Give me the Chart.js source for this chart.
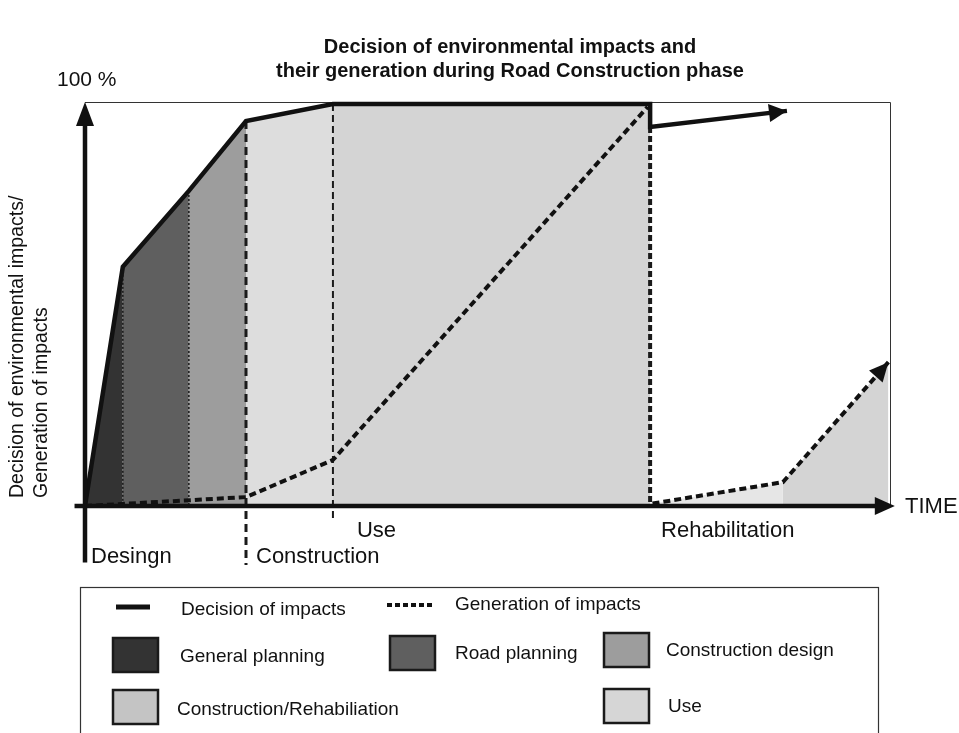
<!DOCTYPE html>
<html>
<head>
<meta charset="utf-8">
<script src="https://cdn.jsdelivr.net/npm/chart.js@4/dist/chart.umd.min.js"></script>
<style>
  html, body { margin: 0; background: #fff; }
  #wrap { width: 959px; height: 733px; position: relative; }
</style>
</head>
<body>
<div id="wrap"><canvas id="chart"></canvas></div>
<script>
// time runs 0..100 (no units), vertical axis is percent
const decisionX = [0, 4.7, 12.9, 20.0, 30.8, 70.2, 70.2, 87.2];
const decisionY = [0, 59.2, 78.0, 95.3, 99.5, 99.5, 93.8, 97.8];
const generationX = [0, 20.0, 30.8, 69.9];
const generationY = [0, 2.2, 11.4, 98.8];
const rehabX = [70.5, 86.7, 99.8];
const rehabY = [0.6, 5.9, 35.6];

const phaseNames = ['General planning', 'Road planning', 'Construction design', 'Construction', 'Use'];
const phaseColors = ['#333333', '#5f5f5f', '#9d9d9d', '#dddddd', '#d4d4d4'];
const rehabColors = ['#e6e6e6', '#d4d4d4'];

// phase boundaries under the decision curve
const markerX = [4.7, 12.9, 20.0, 30.8, 70.2];
const markerTop = [59.2, 78.0, 95.3, 99.5, 93.8];
const markerBottom = [0, 0, -14.6, -3.0, 0];

const stageLabels = ['Desingn', 'Construction', 'Use', 'Rehabilitation'];
const stageX = [0, 20.0, 30.8, 70.2];

const pts = (xs, ys) => xs.map((x, i) => ({ x: x, y: ys[i] }));

const datasets = [];

// lines on top
datasets.push({
  label: 'Decision of impacts',
  data: pts(decisionX, decisionY),
  borderColor: '#111',
  borderWidth: 4.5,
  pointRadius: 0,
  showLine: true,
  fill: false,
  clip: false,
  order: 0
});
datasets.push({
  label: 'Generation of impacts',
  data: pts(generationX, generationY),
  borderColor: '#111',
  borderWidth: 4,
  borderDash: [7, 4],
  pointRadius: 0,
  showLine: true,
  fill: false,
  clip: false,
  order: 0
});
datasets.push({
  label: 'Generation (rehabilitation)',
  data: pts(rehabX, rehabY),
  borderColor: '#111',
  borderWidth: 4,
  borderDash: [7, 4],
  pointRadius: 0,
  showLine: true,
  fill: false,
  clip: false,
  order: 0
});

// phase markers
const markerStyle = [
  { w: 1.5, dash: [2, 2] },
  { w: 1.5, dash: [2, 2] },
  { w: 3, dash: [8, 5] },
  { w: 2, dash: [7, 4] },
  { w: 4, dash: [6, 3] }
];
markerX.forEach((x, i) => {
  datasets.push({
    label: 'marker' + i,
    data: [{ x: x, y: markerTop[i] }, { x: x, y: markerBottom[i] }],
    borderColor: '#1a1a1a',
    borderWidth: markerStyle[i].w,
    borderDash: markerStyle[i].dash,
    pointRadius: 0,
    showLine: true,
    fill: false,
    clip: false,
    order: 1
  });
});

// shaded phases
phaseNames.forEach((name, i) => {
  datasets.push({
    label: name,
    data: pts(decisionX.slice(i, i + 2), decisionY.slice(i, i + 2)),
    borderWidth: 0,
    borderColor: 'rgba(0,0,0,0)',
    backgroundColor: phaseColors[i],
    pointRadius: 0,
    showLine: true,
    fill: 'origin',
    order: 10
  });
});
rehabColors.forEach((c, i) => {
  datasets.push({
    label: 'rehab' + i,
    data: pts(rehabX.slice(i, i + 2), rehabY.slice(i, i + 2)),
    borderWidth: 0,
    borderColor: 'rgba(0,0,0,0)',
    backgroundColor: c,
    pointRadius: 0,
    showLine: true,
    fill: 'origin',
    order: 10
  });
});

const FONT = '"Liberation Sans", Arial, sans-serif';

function arrowHead(ctx, x0, y0, x1, y1, len, half) {
  const a = Math.atan2(y1 - y0, x1 - x0);
  ctx.beginPath();
  ctx.moveTo(x1, y1);
  ctx.lineTo(x1 - len * Math.cos(a) + half * Math.sin(a), y1 - len * Math.sin(a) - half * Math.cos(a));
  ctx.lineTo(x1 - len * Math.cos(a) - half * Math.sin(a), y1 - len * Math.sin(a) + half * Math.cos(a));
  ctx.closePath();
  ctx.fill();
}

const frame = {
  id: 'frame',
  beforeDatasetsDraw(chart) {
    const ctx = chart.ctx;
    const a = chart.chartArea;
    ctx.save();
    ctx.strokeStyle = '#333';
    ctx.lineWidth = 1;
    ctx.beginPath();
    ctx.moveTo(a.left, a.top + 0.5);
    ctx.lineTo(a.right + 0.5, a.top + 0.5);
    ctx.lineTo(a.right + 0.5, a.bottom);
    ctx.stroke();
    ctx.restore();
  },
  afterDatasetsDraw(chart) {
    const ctx = chart.ctx;
    const xs = chart.scales.x, ys = chart.scales.y;
    const X = v => xs.getPixelForValue(v), Y = v => ys.getPixelForValue(v);
    ctx.save();
    ctx.fillStyle = '#111';
    ctx.strokeStyle = '#111';

    // axes
    ctx.lineWidth = 4.5;
    ctx.beginPath();
    ctx.moveTo(X(0), Y(-14));
    ctx.lineTo(X(0), Y(95));
    ctx.stroke();
    ctx.beginPath();
    ctx.moveTo(X(-1.3), Y(0));
    ctx.lineTo(X(98.5), Y(0));
    ctx.stroke();
    arrowHead(ctx, X(0), Y(0), X(0), Y(100), 24, 9);
    arrowHead(ctx, X(0), Y(0), X(100.6), Y(0), 20, 9);

    // arrow tips of the curves
    const n = decisionX.length;
    arrowHead(ctx, X(decisionX[n - 2]), Y(decisionY[n - 2]), X(decisionX[n - 1]), Y(decisionY[n - 1]), 18, 9);
    const m = rehabX.length;
    arrowHead(ctx, X(rehabX[m - 2]), Y(rehabY[m - 2]), X(rehabX[m - 1]), Y(rehabY[m - 1]), 19, 9);

    // texts
    ctx.textBaseline = 'middle';
    ctx.textAlign = 'center';
    ctx.font = 'bold 20px ' + FONT;
    ctx.fillText('Decision of environmental impacts and', 510, 47);
    ctx.fillText('their generation during Road Construction phase', 510, 71);

    ctx.textAlign = 'left';
    ctx.font = '21px ' + FONT;
    ctx.fillText('100 %', 57, 80);
    ctx.font = '22px ' + FONT;
    ctx.fillText('TIME', X(100) + 15, Y(0) + 1);
    ctx.fillText(stageLabels[0], X(stageX[0]) + 6, 557);
    ctx.fillText(stageLabels[1], X(stageX[1]) + 10, 557);
    ctx.fillText(stageLabels[2], X(stageX[2]) + 24, 531);
    ctx.fillText(stageLabels[3], X(stageX[3]) + 11, 531);

    // vertical axis title
    ctx.save();
    ctx.translate(26, 498);
    ctx.rotate(-Math.PI / 2);
    ctx.font = '19.5px ' + FONT;
    ctx.fillText('Decision of environmental impacts/', 0, -8);
    ctx.fillText('Generation of impacts', 0, 16);
    ctx.restore();

    // legend
    ctx.lineWidth = 1.2;
    ctx.strokeStyle = '#333';
    ctx.strokeRect(80.5, 587.5, 798, 170);

    ctx.strokeStyle = '#111';
    ctx.lineWidth = 5;
    ctx.beginPath();
    ctx.moveTo(116, 607);
    ctx.lineTo(150, 607);
    ctx.stroke();
    ctx.lineWidth = 4;
    ctx.setLineDash([5, 3]);
    ctx.beginPath();
    ctx.moveTo(387, 605);
    ctx.lineTo(434, 605);
    ctx.stroke();
    ctx.setLineDash([]);

    ctx.font = '19px ' + FONT;
    ctx.fillStyle = '#111';
    ctx.fillText('Decision of impacts', 181, 610);
    ctx.fillText('Generation of impacts', 455, 605);

    const swatches = [
      { x: 113, y: 638, c: phaseColors[0], t: phaseNames[0], tx: 180, ty: 657 },
      { x: 390, y: 636, c: phaseColors[1], t: phaseNames[1], tx: 455, ty: 654 },
      { x: 604, y: 633, c: phaseColors[2], t: phaseNames[2], tx: 666, ty: 651 },
      { x: 113, y: 690, c: '#c4c4c4', t: 'Construction/Rehabiliation', tx: 177, ty: 710 },
      { x: 604, y: 689, c: '#d6d6d6', t: 'Use', tx: 668, ty: 707 }
    ];
    swatches.forEach(s => {
      ctx.fillStyle = s.c;
      ctx.fillRect(s.x, s.y, 45, 34);
      ctx.lineWidth = 2.5;
      ctx.strokeStyle = '#1a1a1a';
      ctx.strokeRect(s.x, s.y, 45, 34);
      ctx.fillStyle = '#111';
      ctx.fillText(s.t, s.tx, s.ty);
    });

    ctx.restore();
  }
};

new Chart(document.getElementById('chart'), {
  type: 'scatter',
  data: { datasets: datasets },
  options: {
    responsive: true,
    maintainAspectRatio: false,
    animation: false,
    layout: { padding: { left: 85, right: 69, top: 102, bottom: 227 } },
    scales: {
      x: { type: 'linear', min: 0, max: 100, display: false },
      y: { type: 'linear', min: 0, max: 100, display: false }
    },
    plugins: {
      legend: { display: false },
      tooltip: { enabled: false },
      title: { display: false }
    }
  },
  plugins: [frame]
});
</script>
</body>
</html>
